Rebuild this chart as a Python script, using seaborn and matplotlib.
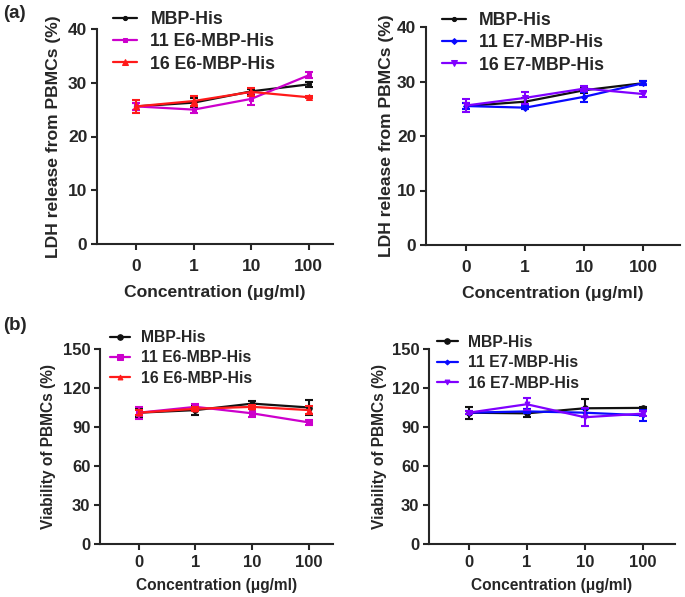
import numpy as np
import pandas as pd
import matplotlib
matplotlib.use("Agg")
import matplotlib.pyplot as plt
import seaborn as sns

# Concentrations (categorical x axis)
conc = ["0", "1", "10", "100"]

# (a) LDH release, E6 panel
ldh_mbp_e6 = [25.6, 26.3, 28.4, 29.7]
ldh_mbp_e6_err = [0.6, 0.8, 0.5, 0.4]
ldh_11e6 = [25.6, 25.0, 27.0, 31.4]
ldh_11e6_err = [0.6, 0.6, 1.1, 0.6]
ldh_16e6 = [25.6, 26.6, 28.3, 27.3]
ldh_16e6_err = [1.2, 1.0, 0.8, 0.2]

# (a) LDH release, E7 panel
ldh_mbp_e7 = [25.5, 26.3, 28.4, 29.7]
ldh_mbp_e7_err = [0.5, 0.6, 0.5, 0.4]
ldh_11e7 = [25.5, 25.2, 27.2, 29.7]
ldh_11e7_err = [0.5, 0.3, 0.9, 0.4]
ldh_16e7 = [25.6, 27.0, 28.7, 27.7]
ldh_16e7_err = [1.2, 1.1, 0.5, 0.5]

# (b) viability, E6 panel
via_mbp_e6 = [101.0, 103.0, 108.0, 105.0]
via_mbp_e6_err = [3.0, 3.5, 2.0, 5.5]
via_11e6 = [101.0, 105.5, 100.5, 93.5]
via_11e6_err = [4.7, 2.0, 3.0, 2.0]
via_16e6 = [101.0, 104.0, 105.5, 103.0]
via_16e6_err = [2.0, 1.5, 1.5, 3.0]

# (b) viability, E7 panel
via_mbp_e7 = [101.0, 100.5, 104.4, 104.7]
via_mbp_e7_err = [4.5, 3.0, 7.0, 0.5]
via_11e7 = [101.0, 102.0, 101.0, 99.0]
via_11e7_err = [1.0, 1.5, 3.0, 4.0]
via_16e7 = [101.0, 107.5, 97.5, 100.3]
via_16e7_err = [1.0, 4.5, 7.0, 2.0]

BLACK = "#111111"
MAGENTA = "#cc00cc"
RED = "#ff1a1a"
BLUE = "#0a0aff"
PURPLE = "#8000ff"

sns.set_style("ticks")
plt.rcParams["font.family"] = ["Liberation Sans", "DejaVu Sans"]
plt.rcParams["font.weight"] = "bold"
plt.rcParams["axes.labelweight"] = "bold"
plt.rcParams["axes.linewidth"] = 1.5
plt.rcParams["xtick.major.width"] = 1.5
plt.rcParams["ytick.major.width"] = 1.5
plt.rcParams["xtick.major.size"] = 4
plt.rcParams["ytick.major.size"] = 4

W, H = 685, 597
fig = plt.figure(figsize=(W / 100, H / 100), dpi=100)


def px_axes(x0, y0, x1, y1):
    return fig.add_axes([x0 / W, (H - y1) / H, (x1 - x0) / W, (y1 - y0) / H])


def draw_panel(ax, series, ylim, yticks, ylabel, leg_anchor, tick_fs, lab_fs,
               leg_fs, tick_pad, xlab_pad, ylab_pad, hlen, hpad, lspace, xmax):
    for label, vals, err, color, marker, ms in series:
        df = pd.DataFrame({"conc": conc, "val": vals})
        sns.lineplot(data=df, x="conc", y="val", color=color, marker=marker,
                     markersize=ms, markeredgecolor=color, linewidth=1.6,
                     label=label, ax=ax, sort=False)
        ax.errorbar(conc, vals, yerr=err, fmt="none", ecolor=color,
                    elinewidth=1.5, capsize=3, capthick=1.5)
    ax.set_ylim(*ylim)
    ax.set_yticks(yticks)
    ax.set_xlim(-0.68, xmax)
    ax.set_xlabel("Concentration (μg/ml)", fontsize=lab_fs, labelpad=xlab_pad)
    ax.set_ylabel(ylabel, fontsize=lab_fs, labelpad=ylab_pad)
    ax.tick_params(axis="x", labelsize=tick_fs, pad=tick_pad)
    ax.tick_params(axis="y", labelsize=tick_fs, pad=3)
    for lab in ax.get_xticklabels() + ax.get_yticklabels():
        lab.set_fontweight("bold")
    sns.despine(ax=ax)
    ax.legend(loc="upper left", bbox_to_anchor=leg_anchor, frameon=False,
              borderaxespad=0, borderpad=0, handlelength=hlen,
              handletextpad=hpad, labelspacing=lspace,
              prop={"weight": "bold", "size": leg_fs})


ax1 = px_axes(97, 29, 333, 244)
draw_panel(ax1, [
    ("MBP-His", ldh_mbp_e6, ldh_mbp_e6_err, BLACK, "o", 3),
    ("11 E6-MBP-His", ldh_11e6, ldh_11e6_err, MAGENTA, "s", 3.5),
    ("16 E6-MBP-His", ldh_16e6, ldh_16e6_err, RED, "^", 4),
], (0, 40), [0, 10, 20, 30, 40], "LDH release from PBMCs (%)", (0.068, 1.084),
    12.5, 12.6, 12.8, 6.5, 8, 5, 1.35, 0.75, 0.3, 3.42)

ax2 = px_axes(426, 27, 680, 245)
draw_panel(ax2, [
    ("MBP-His", ldh_mbp_e7, ldh_mbp_e7_err, BLACK, "o", 3),
    ("11 E7-MBP-His", ldh_11e7, ldh_11e7_err, BLUE, "D", 3),
    ("16 E7-MBP-His", ldh_16e7, ldh_16e7_err, PURPLE, "v", 4),
], (0, 40), [0, 10, 20, 30, 40], "LDH release from PBMCs (%)", (0.063, 1.069),
    12.5, 12.6, 12.8, 6.5, 8, 2, 1.35, 0.75, 0.3, 3.62)

ax3 = px_axes(100, 349, 333, 544)
draw_panel(ax3, [
    ("MBP-His", via_mbp_e6, via_mbp_e6_err, BLACK, "o", 4),
    ("11 E6-MBP-His", via_11e6, via_11e6_err, MAGENTA, "s", 4),
    ("16 E6-MBP-His", via_16e6, via_16e6_err, RED, "^", 3.5),
], (0, 150), [0, 30, 60, 90, 120, 150], "Viability of PBMCs (%)", (0.043, 1.097),
    12, 11.2, 11.3, 4, 6, 5, 1.3, 0.65, 0.34, 3.42)

ax4 = px_axes(429, 349, 675, 544)
draw_panel(ax4, [
    ("MBP-His", via_mbp_e7, via_mbp_e7_err, BLACK, "o", 4),
    ("11 E7-MBP-His", via_11e7, via_11e7_err, BLUE, "D", 2.5),
    ("16 E7-MBP-His", via_16e7, via_16e7_err, PURPLE, "v", 3.5),
], (0, 150), [0, 30, 60, 90, 120, 150], "Viability of PBMCs (%)", (0.033, 1.072),
    12, 11.2, 11.3, 4, 6, 3, 1.3, 0.65, 0.34, 3.55)

fig.text(3 / W, 1 - 13 / H, "(a)", fontsize=13.5, fontweight="bold", va="center")
fig.text(3 / W, 1 - 326 / H, "(b)", fontsize=13.5, fontweight="bold", va="center")

fig.savefig("out.png", dpi=100)
